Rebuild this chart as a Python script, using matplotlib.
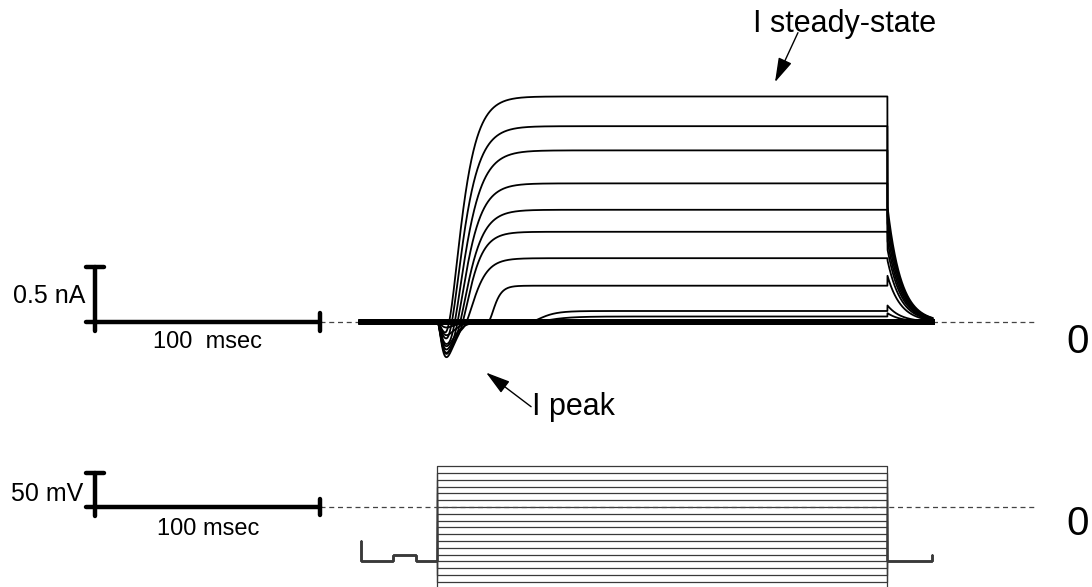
import numpy as np
import matplotlib.pyplot as plt

plt.rcParams['font.family'] = ['Liberation Sans', 'DejaVu Sans']

# voltage-clamp protocol (ms, mV)
sweep_end = 254.0
step_on = 34.0
step_off = 234.0
v_hold = -80
v_start = -50
v_pre = -70
pre_on, pre_off = 14.4, 24.4
v_after = -70
step_mv = [60, 50, 40, 30, 20, 10, 0, -10, -20, -30,
           -40, -50, -60, -70, -80, -90, -100, -110, -120]

# currents (nA, ms)
i_steady = [2.05, 1.78, 1.56, 1.26, 1.02, 0.82, 0.58, 0.33, 0.10, 0.05,
            0, 0, 0, 0, 0, 0, 0, 0, 0]
delay_ms = [2.8, 3.5, 4.5, 5.8, 7.1, 8.6, 10.7, 22.0, 40.0, 41.0,
            0, 0, 0, 0, 0, 0, 0, 0, 0]
tau_ms = [5.4, 5.6, 5.8, 5.4, 5.2, 4.6, 4.4, 2.4, 4.8, 6.8,
          1, 1, 1, 1, 1, 1, 1, 1, 1]
i_peak = [0.10, 0.15, 0.20, 0.25, 0.29, 0.32, 0.28, 0.22, 0.12, 0.05,
          0, 0, 0, 0, 0, 0, 0, 0, 0]
i_tail = [1.05, 0.97, 0.90, 0.82, 0.74, 0.66, 0.56, 0.42, 0.15, 0.08,
          0, 0, 0, 0, 0, 0, 0, 0, 0]
peak_tp = 4.0
tail_tau = 6.0

fig = plt.figure(figsize=(10.92, 5.87), dpi=100)
ax_i = fig.add_axes([0, 0, 1, 1])
ax_v = fig.add_axes([0, 0, 1, 1])
for ax in (ax_i, ax_v):
    ax.set_xlim(-160.44, 324.89)
    ax.axis('off')
    ax.patch.set_alpha(0)
ax_i.set_ylim(-2.409, 2.927)
ax_v.set_ylim(-117.6, 745.6)

t = np.arange(0, sweep_end, 0.05)
s = t - step_on
during = (t >= step_on) & (t < step_off)
after = t >= step_off

# current sweeps
for k in range(len(step_mv)):
    x = np.clip(s - delay_ms[k], 0, None) / tau_ms[k]
    cur = i_steady[k] * (1 - np.exp(-x)) ** 3
    sp = np.clip(s, 0, None) / peak_tp
    cur = cur - i_peak[k] * sp ** 2 * np.exp(2 * (1 - sp))
    cur = np.where(during, cur, 0.0)
    cur = cur + np.where(after, i_tail[k] * np.exp(-(t - step_off) / tail_tau), 0.0)
    lw = 1.3 if i_steady[k] > 0 else 3.5
    ax_i.plot(t, cur, color='black', lw=lw, zorder=3)

# voltage command sweeps
for v in step_mv:
    tv = [0, 0, pre_on, pre_on, pre_off, pre_off, step_on, step_on,
          step_off, step_off, sweep_end, sweep_end]
    vv = [v_start, v_hold, v_hold, v_pre, v_pre, v_hold, v_hold, v,
          v, v_hold, v_hold, v_after]
    ax_v.plot(tv, vv, color='#3a3a3a', lw=0.9, zorder=3)

# zero lines
dash = (0, (4, 3))
ax_i.plot([-18, 299], [0, 0], color='#444444', lw=0.9, ls=dash, zorder=1)
ax_v.plot([-18, 299], [0, 0], color='#444444', lw=0.9, ls=dash, zorder=4)

# scale bars
t0 = -118
bar = dict(color='black', lw=3.2, solid_capstyle='round', zorder=5)
ax_i.plot([t0 - 4, t0 + 100], [0, 0], **bar)
ax_i.plot([t0, t0], [-0.08, 0.5], **bar)
ax_i.plot([t0 - 4, t0 + 4], [0.5, 0.5], **bar)
ax_i.plot([t0 + 100, t0 + 100], [-0.08, 0.08], **bar)
ax_v.plot([t0 - 4, t0 + 100], [0, 0], **bar)
ax_v.plot([t0, t0], [-13, 50], **bar)
ax_v.plot([t0 - 4, t0 + 4], [50, 50], **bar)
ax_v.plot([t0 + 100, t0 + 100], [-12, 12], **bar)

ax_i.text(t0 - 4.7, 0.17, '0.5 nA', fontsize=18, ha='right', va='baseline')
ax_i.text(t0 + 50, -0.236, '100  msec', fontsize=17, ha='center', va='baseline')
ax_v.text(t0 - 5.6, 8.8, '50 mV', fontsize=18, ha='right', va='baseline')
ax_v.text(t0 + 50, -41.2, '100 msec', fontsize=17, ha='center', va='baseline')

ax_i.text(318.5, -0.28, '0', fontsize=29, ha='center', va='baseline')
ax_v.text(318.5, -41.2, '0', fontsize=29, ha='center', va='baseline')

# annotations
arrow = dict(arrowstyle='-|>,head_length=0.75,head_width=0.22', color='black',
             lw=1.0, shrinkA=0, shrinkB=0, mutation_scale=20)
ax_i.annotate('', xy=(184, 2.18), xytext=(194.2, 2.63), arrowprops=arrow)
ax_i.text(174.2, 2.64, 'I steady-state', fontsize=22, ha='left', va='baseline')
ax_i.annotate('', xy=(55.6, -0.46), xytext=(75.6, -0.77), arrowprops=arrow)
ax_i.text(76, -0.845, 'I peak', fontsize=22, ha='left', va='baseline')

fig.savefig('out.png', dpi=100)
